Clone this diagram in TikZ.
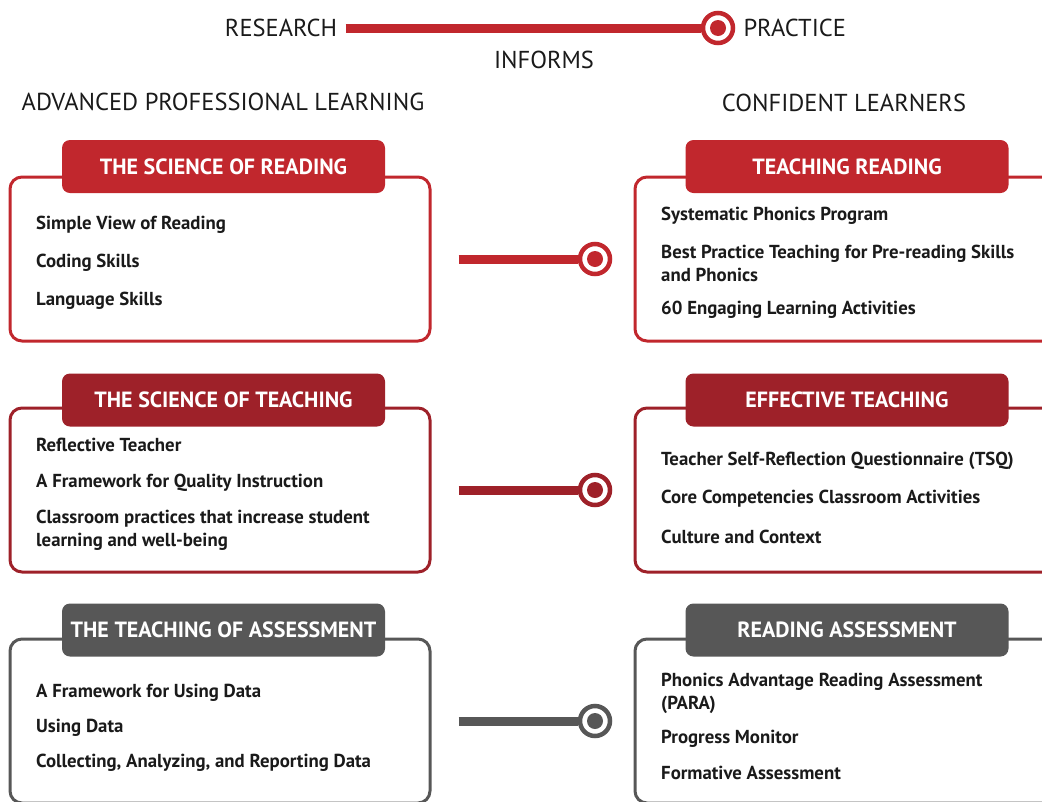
\documentclass[tikz,border=0pt]{standalone}
\usepackage{fontspec}
\setmainfont{PT Sans}
\usetikzlibrary{positioning}
\definecolor{redA}{HTML}{C1272D}
\definecolor{redB}{HTML}{9E2129}
\definecolor{greyC}{HTML}{575757}
\definecolor{inkD}{HTML}{1A1A1A}

\begin{document}
\begin{tikzpicture}[x=1pt,y=-1pt,
  box/.style={draw=#1,rounded corners=12pt,line width=3pt,minimum width=420pt,minimum height=164pt,inner sep=0pt},
  rbox/.style={box=#1,minimum width=450pt},
  tab/.style={fill=#1,rounded corners=8pt,minimum width=323pt,minimum height=53pt,text=white,font=\fontsize{22}{26}\selectfont\bfseries},
  item/.style={anchor=west,align=left,inner sep=0pt,yshift=-2pt,text=inkD,font=\fontsize{18.8}{23}\selectfont\bfseries},
  link/.style={line width=9pt,draw=#1},
  dot/.style={circle,draw=#1,line width=4.5pt,fill=white,minimum size=30pt,inner sep=0pt,
    path picture={\fill[#1] (path picture bounding box.center) circle (8pt);}},
  head/.style={text=inkD,font=\fontsize{24.5}{28}\selectfont}]
   \useasboundingbox (0,0) rectangle (1042,801);
   \clip (0,0) rectangle (1042,801);

   % top line
   \node[head] (research) at (281,28) {RESEARCH};
   \node[dot=redA] (practdot) at (718,28) {};
   \node[head,anchor=west] (practice) at (740,28) {PRACTICE};
   \draw[link=redA,shorten <=5pt] (research) -- (practdot);
   \node[head] (informs) at (544,60) {INFORMS};
   \node[head] (advanced) at (223,102) {ADVANCED PROFESSIONAL LEARNING};
   \node[head] (confident) at (844,103) {CONFIDENT LEARNERS};

   % left column
   \node[box=redA] (lb1) at (220,259) {};
   \node[tab=redA] (lt1) at (223.5,166.5) {THE SCIENCE OF READING};
   \node[item] (l11) at (36,223) {Simple View of Reading};
   \node[item] (l12) at (36,261) {Coding Skills};
   \node[item] (l13) at (36,299) {Language Skills};

   \node[box=redB] (lb2) at (220,490) {};
   \node[tab=redB] (lt2) at (223.5,400) {THE SCIENCE OF TEACHING};
   \node[item] (l21) at (36,443) {Reflective Teacher};
   \node[item] (l22) at (36,481) {A Framework for Quality Instruction};
   \node[item] (l23) at (36,528) {Classroom practices that increase student\\learning and well-being};

   \node[box=greyC] (lb3) at (220,721) {};
   \node[tab=greyC] (lt3) at (223.5,630) {THE TEACHING OF ASSESSMENT};
   \node[item] (l31) at (36,691) {A Framework for Using Data};
   \node[item] (l32) at (36,726) {Using Data};
   \node[item] (l33) at (36,761) {Collecting, Analyzing, and Reporting Data};

   % right column
   \node[rbox=redA] (rb1) at (860,259) {};
   \node[tab=redA] (rt1) at (847,166.5) {TEACHING READING};
   \node[item] (r11) at (661,214) {Systematic Phonics Program};
   \node[item] (r12) at (661,261.5) {Best Practice Teaching for Pre-reading Skills\\and Phonics};
   \node[item] (r13) at (661,308) {60 Engaging Learning Activities};

   \node[rbox=redB] (rb2) at (860,490) {};
   \node[tab=redB] (rt2) at (847,400) {EFFECTIVE TEACHING};
   \node[item] (r21) at (661,459) {Teacher Self-Reflection Questionnaire (TSQ)};
   \node[item] (r22) at (661,497) {Core Competencies Classroom Activities};
   \node[item] (r23) at (661,535) {Culture and Context};

   \node[rbox=greyC] (rb3) at (860,721) {};
   \node[tab=greyC] (rt3) at (847,630) {READING ASSESSMENT};
   \node[item] (r31) at (661,691) {Phonics Advantage Reading Assessment\\(PARA)};
   \node[item] (r32) at (661,737) {Progress Monitor};
   \node[item] (r33) at (661,771) {Formative Assessment};

   % connectors
   \coordinate[right=27pt of lb1] (s1);
   \coordinate[right=27pt of lb2] (s2);
   \coordinate[right=27pt of lb3] (s3);
   \node[dot=redA] (d1) at (595,259) {};
   \node[dot=redB] (d2) at (595,490) {};
   \node[dot=greyC] (d3) at (595,721) {};
   \draw[link=redA] (s1) -- (d1);
   \draw[link=redB] (s2) -- (d2);
   \draw[link=greyC] (s3) -- (d3);
\end{tikzpicture}
\end{document}
